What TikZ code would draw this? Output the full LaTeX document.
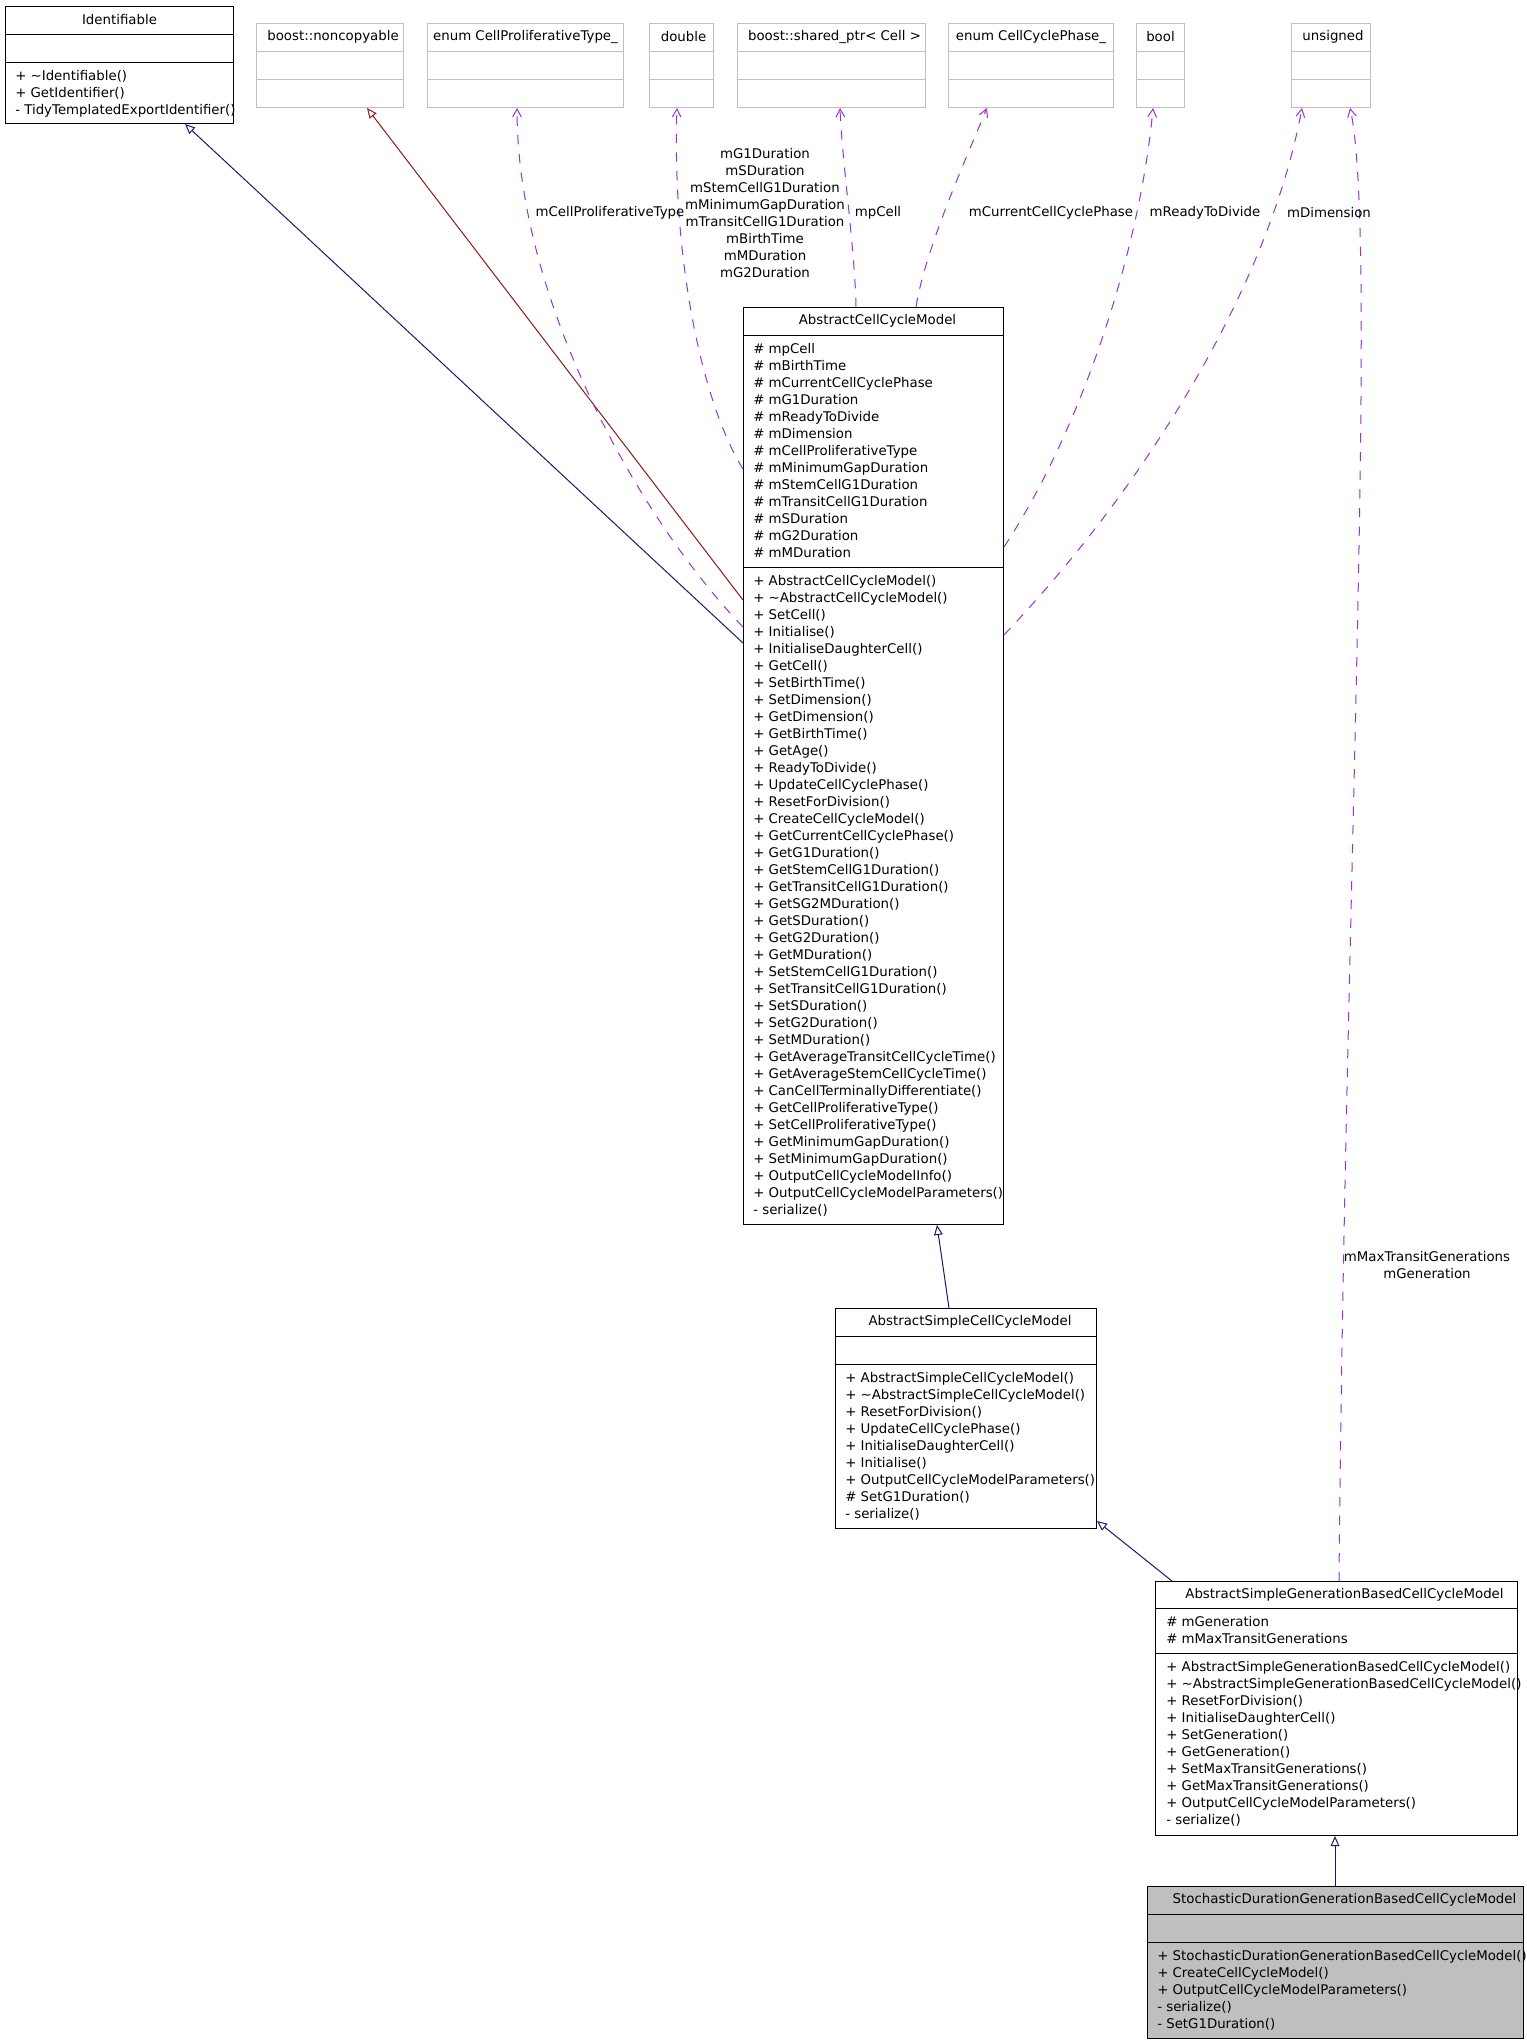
\documentclass[tikz,border=0pt]{standalone}
\usepackage{fontspec}
\setmainfont{DejaVu Sans}
\usepackage{tikz}
\usetikzlibrary{calc,positioning,arrows.meta}
\usepackage{xcolor}
\definecolor{inhblue}{RGB}{25,25,112}
\definecolor{inhred}{RGB}{139,26,26}
\definecolor{usepurple}{RGB}{154,50,205}
\definecolor{typegrey}{RGB}{191,191,191}
\tikzset{
  cls/.style={rectangle,draw=black,line width=0.75pt,inner sep=0pt,anchor=north west},
  typ/.style={cls,draw=typegrey},
  sz/.style 2 args={minimum width=#1*0.75pt,minimum height=#2*0.75pt},
  ttl/.style={font=\fontsize{10}{12.75}\selectfont,inner sep=0pt},
  mem/.style={font=\fontsize{10}{12.75}\selectfont,align=left,anchor=north west,inner sep=0pt},
  lbl/.style={font=\fontsize{10}{12.75}\selectfont,align=center,inner sep=0pt},
  divline/.style={line width=0.75pt,black},
  tdivline/.style={line width=0.75pt,typegrey},
  % inheritance edges (public: blue, private: red) and usage edges
  inh/.style={-{Triangle[open,length=7.5pt,width=6.5pt]},line width=0.75pt,inhblue},
  inhp/.style={inh,inhred},
  usage/.style={-{Straight Barb[length=6pt,width=6.5pt]},dash pattern=on 7pt off 7pt,line width=0.75pt,usepurple},
}
\newcommand{\Boxes}{%
  \node[cls,sz={228}{117}] (ident) at (5,6) {};
  \node[typ,sz={147}{84}] (noncp) at (256,23) {};
  \node[typ,sz={196}{84}] (prolif) at (427,23) {};
  \node[typ,sz={64}{84}] (dbl) at (649,23) {};
  \node[typ,sz={188}{84}] (sptr) at (737,23) {};
  \node[typ,sz={165}{84}] (phase) at (948,23) {};
  \node[typ,sz={48}{84}] (boolt) at (1136,23) {};
  \node[typ,sz={79}{84}] (unsg) at (1291,23) {};
  \node[cls,sz={260}{917}] (accm) at (743,307) {};
  \node[cls,sz={261}{220}] (ascc) at (835,1308) {};
  \node[cls,sz={362}{254}] (asgb) at (1155,1581) {};
  \node[cls,fill=typegrey,sz={376}{152}] (stoch) at (1147,1886) {};
}
\newcommand{\Edges}{%
  \draw[inh] ($(accm.north west)+(0,336)$) -- ($(ident.south west)+(180,0)$);
  \draw[inhp] ($(accm.north west)+(0,293)$) -- ($(noncp.south west)+(111,0)$);
  \draw[inh] ($(ascc.north west)+(114,0)$) -- ($(accm.south west)+(194,0)$);
  \draw[inh] ($(asgb.north west)+(17,0)$) -- ($(ascc.south east)+(0,-8)$);
  \draw[inh] ($(stoch.north west)+(188,0)$) -- ($(asgb.south west)+(180,0)$);
  \draw[usage] ($(accm.north west)+(0,320)$) .. controls +(-103,-107) and +(0,193) .. ($(prolif.south west)+(90,0)$);
  \draw[usage] ($(accm.north west)+(0,162)$) .. controls +(-43,-69) and +(-5,143) .. ($(dbl.south west)+(28,0)$);
  \draw[usage] ($(accm.north west)+(113,0)$) .. controls +(-1,-57) and +(2,53) .. ($(sptr.south west)+(103,0)$);
  \draw[usage] ($(accm.north west)+(173,0)$) .. controls +(9,-57) and +(-22,53) .. ($(phase.south west)+(39,0)$);
  \draw[usage] ($(accm.north east)+(0,240)$) .. controls +(77,-117) and +(-13,143) .. ($(boolt.south west)+(17,0)$);
  \draw[usage] ($(accm.north east)+(0,328)$) .. controls +(147,-155) and +(-32,173) .. ($(unsg.south west)+(11,0)$);
  \draw[usage] ($(asgb.north west)+(184,0)$) .. controls +(6,-681) and +(28,123) .. ($(unsg.south west)+(59,0)$);
}

\begin{document}
\begin{tikzpicture}[x=0.75pt,y=-0.75pt]
  \useasboundingbox (0,0) rectangle (1527,2043);
  \fill[white] (0,0) rectangle (1527,2043);
  \Boxes
  % compartment lines
  \foreach \n in {noncp,prolif,dbl,sptr,phase,boolt,unsg}{
    \draw[tdivline] ($(\n.north west)+(0,28)$) -- ($(\n.north east)+(0,28)$);
    \draw[tdivline] ($(\n.north west)+(0,56)$) -- ($(\n.north east)+(0,56)$);
  }
  \foreach \n/\a/\b in {ident/28/56,accm/28/260,ascc/28/56,asgb/27/72,stoch/28/56}{
    \draw[divline] ($(\n.north west)+(0,\a)$) -- ($(\n.north east)+(0,\a)$);
    \draw[divline] ($(\n.north west)+(0,\b)$) -- ($(\n.north east)+(0,\b)$);
  }
  % titles
  \node[ttl] (identT) at ($(ident.north)+(0,14)$) {Identifiable};
  \node[ttl] (noncpT) at ($(noncp.north)+(3,14)$) {boost::noncopyable};
  \node[ttl] (prolifT) at ($(prolif.north)+(0,14)$) {enum CellProliferativeType\_};
  \node[ttl] (dblT) at ($(dbl.north)+(2,14)$) {double};
  \node[ttl] (sptrT) at ($(sptr.north)+(3,14)$) {boost::shared\_ptr< Cell >};
  \node[ttl] (phaseT) at ($(phase.north)+(0,14)$) {enum CellCyclePhase\_};
  \node[ttl] (booltT) at ($(boolt.north)+(0,14)$) {bool};
  \node[ttl] (unsgT) at ($(unsg.north)+(2,14)$) {unsigned};
  \node[ttl] (accmT) at ($(accm.north)+(4,14)$) {AbstractCellCycleModel};
  \node[ttl] (asccT) at ($(ascc.north)+(4,14)$) {AbstractSimpleCellCycleModel};
  \node[ttl] (asgbT) at ($(asgb.north)+(8,14)$) {AbstractSimpleGenerationBasedCellCycleModel};
  \node[ttl] (stochT) at ($(stoch.north)+(9,14)$) {StochasticDurationGenerationBasedCellCycleModel};
  % members
  \node[mem] (identM) at ($(ident.north west)+(10,64)$) {+ \textasciitilde Identifiable()\\+ GetIdentifier()\\- TidyTemplatedExportIdentifier()};
  \node[mem] (accmA) at ($(accm.north west)+(10,36)$) {\# mpCell\\\# mBirthTime\\\# mCurrentCellCyclePhase\\\# mG1Duration\\\# mReadyToDivide\\\# mDimension\\\# mCellProliferativeType\\\# mMinimumGapDuration\\\# mStemCellG1Duration\\\# mTransitCellG1Duration\\\# mSDuration\\\# mG2Duration\\\# mMDuration};
  \node[mem] (accmM) at ($(accm.north west)+(10,268)$) {+ AbstractCellCycleModel()\\+ \textasciitilde AbstractCellCycleModel()\\+ SetCell()\\+ Initialise()\\+ InitialiseDaughterCell()\\+ GetCell()\\+ SetBirthTime()\\+ SetDimension()\\+ GetDimension()\\+ GetBirthTime()\\+ GetAge()\\+ ReadyToDivide()\\+ UpdateCellCyclePhase()\\+ ResetForDivision()\\+ CreateCellCycleModel()\\+ GetCurrentCellCyclePhase()\\+ GetG1Duration()\\+ GetStemCellG1Duration()\\+ GetTransitCellG1Duration()\\+ GetSG2MDuration()\\+ GetSDuration()\\+ GetG2Duration()\\+ GetMDuration()\\+ SetStemCellG1Duration()\\+ SetTransitCellG1Duration()\\+ SetSDuration()\\+ SetG2Duration()\\+ SetMDuration()\\+ GetAverageTransitCellCycleTime()\\+ GetAverageStemCellCycleTime()\\+ CanCellTerminallyDifferentiate()\\+ GetCellProliferativeType()\\+ SetCellProliferativeType()\\+ GetMinimumGapDuration()\\+ SetMinimumGapDuration()\\+ OutputCellCycleModelInfo()\\+ OutputCellCycleModelParameters()\\- serialize()};
  \node[mem] (asccM) at ($(ascc.north west)+(10,64)$) {+ AbstractSimpleCellCycleModel()\\+ \textasciitilde AbstractSimpleCellCycleModel()\\+ ResetForDivision()\\+ UpdateCellCyclePhase()\\+ InitialiseDaughterCell()\\+ Initialise()\\+ OutputCellCycleModelParameters()\\\# SetG1Duration()\\- serialize()};
  \node[mem] (asgbA) at ($(asgb.north west)+(11,35)$) {\# mGeneration\\\# mMaxTransitGenerations};
  \node[mem] (asgbM) at ($(asgb.north west)+(11,80)$) {+ AbstractSimpleGenerationBasedCellCycleModel()\\+ \textasciitilde AbstractSimpleGenerationBasedCellCycleModel()\\+ ResetForDivision()\\+ InitialiseDaughterCell()\\+ SetGeneration()\\+ GetGeneration()\\+ SetMaxTransitGenerations()\\+ GetMaxTransitGenerations()\\+ OutputCellCycleModelParameters()\\- serialize()};
  \node[mem] (stochM) at ($(stoch.north west)+(10,64)$) {+ StochasticDurationGenerationBasedCellCycleModel()\\+ CreateCellCycleModel()\\+ OutputCellCycleModelParameters()\\- serialize()\\- SetG1Duration()};
  \Edges
  % edge labels
  \node[lbl] (lProlif) at (610,213) {mCellProliferativeType};
  \node[lbl] (lDbl) at (765,213) {mG1Duration\\mSDuration\\mStemCellG1Duration\\mMinimumGapDuration\\mTransitCellG1Duration\\mBirthTime\\mMDuration\\mG2Duration};
  \node[lbl] (lCell) at (878,213) {mpCell};
  \node[lbl] (lPhase) at (1051,213) {mCurrentCellCyclePhase};
  \node[lbl] (lReady) at (1205,213) {mReadyToDivide};
  \node[lbl] (lDim) at (1329,213) {mDimension};
  \node[lbl] (lGen) at (1427,1265) {mMaxTransitGenerations\\mGeneration};
\end{tikzpicture}
\end{document}
